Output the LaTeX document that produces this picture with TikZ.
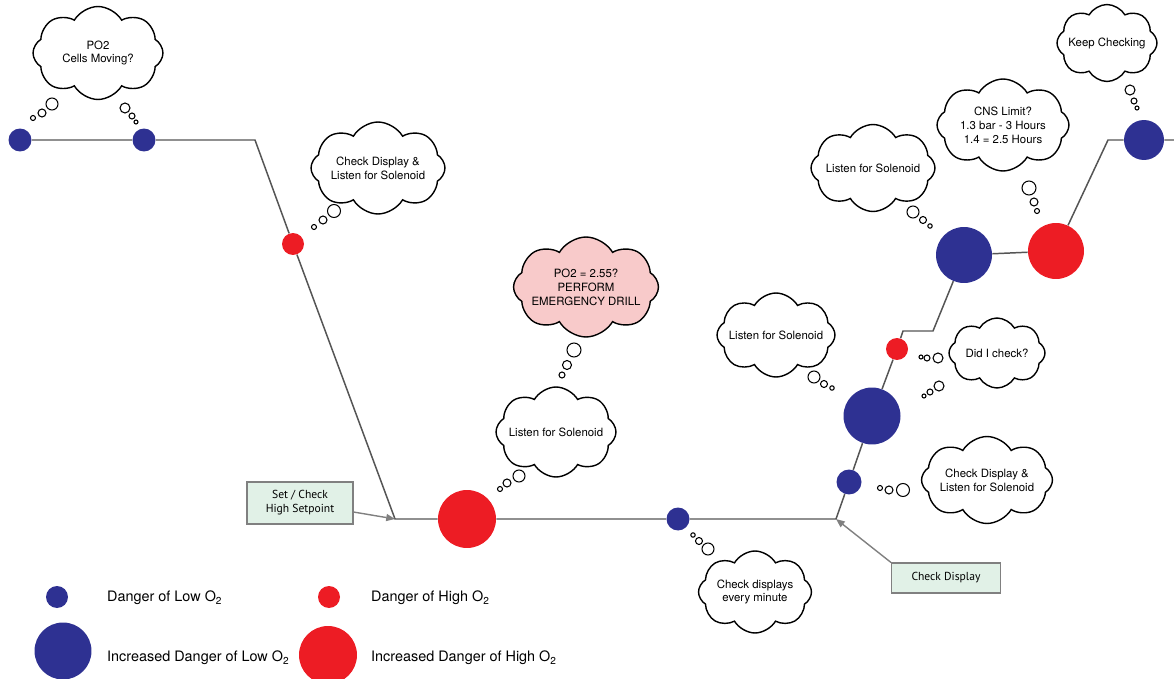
\documentclass[tikz,border=0pt]{standalone}
\usepackage{fontspec}
\setmainfont{TeX Gyre Heros}
\newfontfamily\boxfont{PT Sans}
\usetikzlibrary{shapes.symbols,arrows.meta}
\definecolor{lowblue}{HTML}{2E3192}
\definecolor{highred}{HTML}{ED1C24}
\definecolor{alarmpink}{HTML}{F8CACA}
\definecolor{notegreen}{HTML}{E1F1E7}
\definecolor{linegray}{HTML}{555555}

\begin{document}
\begin{tikzpicture}[x=0.02cm, y=-0.02cm,
    thought/.style={cloud, cloud puffs=8, cloud puff arc=120, cloud ignores aspect, draw, line width=0.8pt, fill=white, inner sep=0pt},
    txt/.style={font=\fontsize{6.5}{7.9}\selectfont, align=center},
    bub/.style={circle, draw, line width=0.6pt, fill=white, inner sep=0pt},
    low/.style={circle, fill=lowblue, inner sep=0pt},
    high/.style={circle, fill=highred, inner sep=0pt},
    note/.style={draw=gray, line width=0.6pt, fill=notegreen, font=\boxfont\fontsize{6.6}{8}\selectfont, align=center},
    profile/.style={draw=linegray, line width=0.85pt},
    pointer/.style={draw=gray, line width=0.8pt, -{Triangle[length=5pt,width=4pt]}},
    legend/.style={anchor=west, font=\fontsize{8.2}{10}\selectfont}]
	\useasboundingbox (0,0) rectangle (1174,679);

	% thought clouds
	\node[thought, minimum width=2.6cm, minimum height=1.86cm, label={[txt]center:PO2\\Cells Moving?}] (cells) at (98,53) {};
	\node[thought, minimum width=2.68cm, minimum height=1.84cm, label={[txt]center:Check Display \&\\Listen for Solenoid}] (chk1) at (378,168) {};
	\node[thought, fill=alarmpink, minimum width=2.9cm, minimum height=2.0cm, label={[txt]center:PO2 = 2.55?\\PERFORM\\EMERGENCY DRILL}] (drill) at (586,287) {};
	\node[thought, minimum width=2.4cm, minimum height=1.8cm, label={[txt]center:Listen for Solenoid}] (sol1) at (556,432) {};
	\node[thought, minimum width=2.26cm, minimum height=1.64cm, label={[txt]center:Check displays\\every minute}] (minute) at (755,592) {};
	\node[thought, minimum width=2.36cm, minimum height=1.68cm, label={[txt]center:Listen for Solenoid}] (sol2) at (776,335) {};
	\node[thought, minimum width=1.92cm, minimum height=1.4cm, label={[txt]center:Did I check?}] (didi) at (997,353) {};
	\node[thought, minimum width=2.62cm, minimum height=1.74cm, label={[txt]center:Check Display \&\\Listen for Solenoid}] (chk2) at (987,480) {};
	\node[thought, minimum width=2.48cm, minimum height=1.74cm, label={[txt]center:Listen for Solenoid}] (sol3) at (873,168) {};
	\node[thought, minimum width=2.64cm, minimum height=1.84cm, label={[txt]center:CNS Limit?\\1.3 bar - 3 Hours\\1.4 = 2.5 Hours}] (cns) at (1003,125) {};
	\node[thought, minimum width=2.0cm, minimum height=1.54cm, label={[txt]center:Keep Checking}] (keep) at (1107,43) {};

	% little bubbles
	\foreach \x/\y/\r [count=\i] in {52/104/6, 42/113/4, 33/118/2.5, 125/108/5, 132/116/3, 136/122/2,
	    334/211/6.5, 323/220/4, 314/227/2.5, 574/350/7, 567/365/4.5, 562/375/3,
	    519/476/6, 507/483/4, 500/489/2.5, 708/549/6, 699/541/3.5, 693/535/2.2,
	    814/377/6, 824/384/3.5, 832/388/2.2, 938/358/5, 927/358/3, 921/357/2,
	    939/386/5, 930/392/3, 924/396/2, 903/490/6.5, 889/490/4, 880/488/2.5,
	    913/212/6, 923/220/3.5, 930/226/2.2, 1029/188/7, 1034/202/4, 1037/211/2.5,
	    1130/90/5, 1134/101/3, 1137/108/2}
		\node[bub, minimum size=\r*0.04cm] (bub\i) at (\x,\y) {};

	% dive profile
	\node[low, minimum size=0.46cm] (L1) at (20,140) {};
	\node[low, minimum size=0.46cm] (L2) at (144,140) {};
	\node[high, minimum size=0.44cm] (H1) at (293,244) {};
	\node[high, minimum size=1.16cm] (HH1) at (467,519) {};
	\node[low, minimum size=0.46cm] (L3) at (678,519) {};
	\node[low, minimum size=0.5cm] (L4) at (849,482) {};
	\node[low, minimum size=1.14cm] (LL1) at (872,416) {};
	\node[high, minimum size=0.44cm] (H2) at (897,349) {};
	\node[low, minimum size=1.12cm] (LL2) at (964,255) {};
	\node[high, minimum size=1.12cm] (HH2) at (1056,251) {};
	\node[low, minimum size=0.8cm] (L5) at (1144,140) {};
	\coordinate (k1) at (255,140);
	\coordinate (k2) at (395,519);
	\coordinate (k3) at (836,519);
	\coordinate (k4) at (903,331);
	\coordinate (k5) at (933,331);
	\coordinate (k6) at (1108,140);
	\coordinate (k7) at (1174,140);
	\path[profile] (L1) -- (L2) -- (k1) -- (H1) -- (k2) -- (HH1) -- (L3) -- (k3) -- (L4) -- (LL1)
		-- (H2) -- (k4) -- (k5) -- (LL2) -- (HH2) -- (k6) -- (L5) -- (k7);

	% notes
	\node[note, minimum width=2.12cm, minimum height=0.84cm] (setpt) at (300,503) {Set / Check\\High Setpoint};
	\node[note, minimum width=2.18cm, minimum height=0.6cm] (chkdisp) at (946,578) {Check Display};
	\draw[pointer] (setpt) -- (k2);
	\draw[pointer] (chkdisp.north west) -- (k3);

	% legend
	\node[low, minimum size=0.44cm] (legL) at (57,597) {};
	\node[low, minimum size=1.14cm] (legLL) at (63,651) {};
	\node[high, minimum size=0.44cm] (legH) at (329,597) {};
	\node[high, minimum size=1.16cm] (legHH) at (328,655) {};
	\node[legend] (legLt) at (101,598) {Danger of Low O\textsubscript{2}};
	\node[legend] (legLLt) at (101,658) {Increased Danger of Low O\textsubscript{2}};
	\node[legend] (legHt) at (365,598) {Danger of High O\textsubscript{2}};
	\node[legend] (legHHt) at (365,658) {Increased Danger of High O\textsubscript{2}};
\end{tikzpicture}
\end{document}
